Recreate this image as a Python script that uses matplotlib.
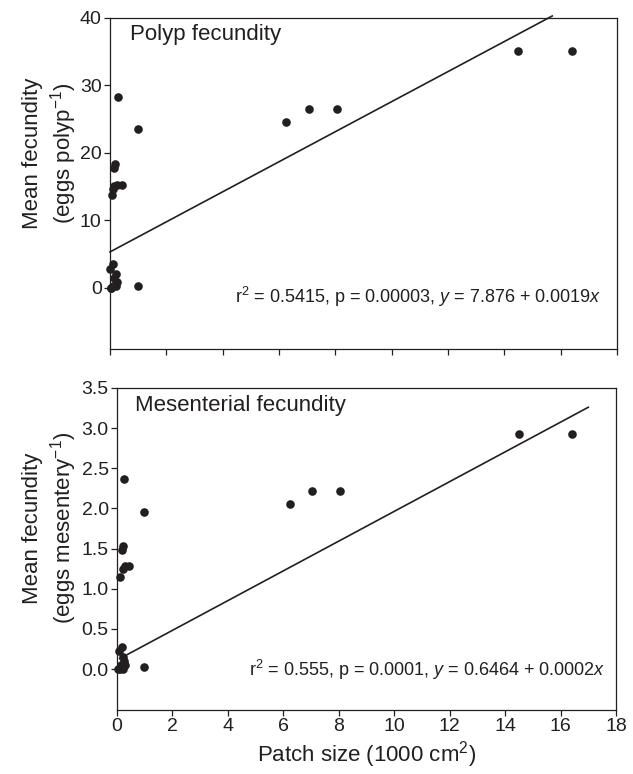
import matplotlib
matplotlib.use("Agg")
import matplotlib.pyplot as plt
from matplotlib.ticker import FormatStrFormatter

plt.rcParams['font.family'] = ['Liberation Sans', 'DejaVu Sans']
plt.rcParams['mathtext.fontset'] = 'custom'
plt.rcParams['mathtext.rm'] = 'Liberation Sans'
plt.rcParams['mathtext.it'] = 'Liberation Sans:italic'

INK = '#231f20'

# ---- Data: polyp fecundity (top panel) ----
polyp_x = [0.29, 0.98, 0.18, 0.13, 0.14, 0.41, 0.25, 0.06, 0.10,
           0.12, 0.00, 0.20, 0.15, 0.24, 0.10, 0.05, 0.20, 0.98, 0.02,
           6.25, 7.05, 8.05, 14.5, 16.4]
polyp_y = [28.3, 23.5, 18.3, 17.7, 15.1, 15.3, 15.3, 13.8, 14.6,
           3.5, 2.7, 2.0, 1.4, 0.8, 0.3, 0.0, 0.2, 0.2, 0.0,
           24.5, 26.5, 26.5, 35.1, 35.1]
polyp_fit_x = [0.0, 15.7]
polyp_fit_y = [5.3, 40.3]

# ---- Data: mesenterial fecundity (bottom panel) ----
mes_x = [0.27, 0.98, 0.20, 0.18, 0.30, 0.45, 0.20, 0.12,
         0.17, 0.08, 0.20, 0.25, 0.15, 0.30, 0.05, 0.12, 0.20, 0.98,
         6.25, 7.05, 8.05, 14.5, 16.4]
mes_y = [2.37, 1.96, 1.53, 1.48, 1.28, 1.28, 1.24, 1.15,
         0.28, 0.22, 0.15, 0.10, 0.05, 0.05, 0.00, 0.00, 0.00, 0.02,
         2.05, 2.22, 2.22, 2.93, 2.93]
mes_fit_x = [0.1, 17.0]
mes_fit_y = [0.13, 3.26]

x_ticks = [0, 2, 4, 6, 8, 10, 12, 14, 16, 18]
polyp_ticks = [0, 10, 20, 30, 40]
mes_ticks = [0.0, 0.5, 1.0, 1.5, 2.0, 2.5, 3.0, 3.5]

W, H = 633, 774
fig = plt.figure(figsize=(W / 100, H / 100), dpi=100)

def px_axes(left, right, top, bottom):
    return fig.add_axes([left / W, 1 - bottom / H, (right - left) / W, (bottom - top) / H])

ax1 = px_axes(110, 617, 18, 349)
ax2 = px_axes(117, 616, 388, 710)

TICK_FS = 14
LABEL_FS = 16
TITLE_FS = 16
ANN_FS = 13
MS = 6.2

for ax in (ax1, ax2):
    for s in ax.spines.values():
        s.set_linewidth(0.9)
        s.set_color(INK)
    ax.tick_params(direction='out', length=4, width=0.9, colors=INK,
                   labelsize=TICK_FS, pad=2)
    ax.set_xlim(0, 18)
    ax.set_xticks(x_ticks)

# Top panel
ax1.plot(polyp_x, polyp_y, 'o', color=INK, ms=MS, mec='none', clip_on=False)
ax1.plot(polyp_fit_x, polyp_fit_y, '-', color=INK, lw=1.2, clip_on=False)
ax1.set_ylim(-9.1, 40)
ax1.set_yticks(polyp_ticks)
ax1.tick_params(axis='x', labelbottom=False)
ax1.set_ylabel('Mean fecundity\n(eggs polyp$^{\\mathregular{-1}}$)',
               fontsize=LABEL_FS, color=INK, linespacing=1.2)
ax1.yaxis.set_label_coords(-0.062, 0.592)
ax1.text(0.04, 0.949, 'Polyp fecundity', transform=ax1.transAxes,
         ha='left', va='center', fontsize=TITLE_FS, color=INK)
ax1.text(0.970, 0.157,
         'r$^{2}$ = 0.5415, p = 0.00003, $\\mathit{y}$ = 7.876 + 0.0019$\\mathit{x}$',
         transform=ax1.transAxes, ha='right', va='center', fontsize=ANN_FS, color=INK)

# Bottom panel
ax2.plot(mes_x, mes_y, 'o', color=INK, ms=MS, mec='none', clip_on=False)
ax2.plot(mes_fit_x, mes_fit_y, '-', color=INK, lw=1.2, clip_on=False)
ax2.set_ylim(-0.51, 3.5)
ax2.set_yticks(mes_ticks)
ax2.yaxis.set_major_formatter(FormatStrFormatter('%.1f'))
ax2.set_ylabel('Mean fecundity\n(eggs mesentery$^{\\mathregular{-1}}$)',
               fontsize=LABEL_FS, color=INK, linespacing=1.2)
ax2.yaxis.set_label_coords(-0.077, 0.565)
ax2.set_xlabel('Patch size (1000 cm$^{2}$)', fontsize=LABEL_FS, color=INK, labelpad=3)
ax2.text(0.036, 0.947, 'Mesenterial fecundity', transform=ax2.transAxes,
         ha='left', va='center', fontsize=TITLE_FS, color=INK)
ax2.text(0.978, 0.124,
         'r$^{2}$ = 0.555, p = 0.0001, $\\mathit{y}$ = 0.6464 + 0.0002$\\mathit{x}$',
         transform=ax2.transAxes, ha='right', va='center', fontsize=ANN_FS, color=INK)

fig.savefig('out.png', dpi=100)
